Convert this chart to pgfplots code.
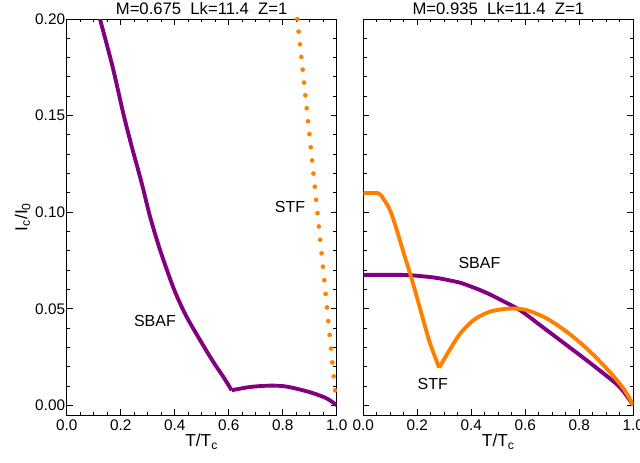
\documentclass[border=0pt]{standalone}
\usepackage{fontspec}
\setmainfont{Liberation Sans}
\usepackage{pgfplots}
\pgfplotsset{compat=1.18}
\definecolor{cpurple}{RGB}{128,0,128}
\definecolor{corange}{RGB}{255,128,0}
\pgfplotsset{
  myax/.style={
    scale only axis, width=202.5pt, height=297pt,
    xmin=0, xmax=1, ymin=-0.005, ymax=0.2,
    xtick={0,0.2,0.4,0.6,0.8,1.0}, minor x tick num=3,
    ytick={0,0.05,0.10,0.15,0.20}, minor y tick num=4,
    tick pos=both, tick align=inside,
    major tick length=4.5pt, minor tick length=2.5pt,
    axis line style={line width=0.75pt},
    every tick/.style={black, line width=0.75pt},
    /pgf/number format/assume math mode=true,
    xticklabel style={/pgf/number format/fixed, /pgf/number format/fixed zerofill, /pgf/number format/precision=1},
    yticklabel style={/pgf/number format/fixed, /pgf/number format/fixed zerofill, /pgf/number format/precision=2, inner xsep=1pt},
    tick label style={font=\fontsize{11.5}{13}\selectfont},
    scaled ticks=false,
    every axis title/.style={at={(axis description cs:0.5,1)}, anchor=base, yshift=3.5pt, font=\fontsize{12.5}{14}\selectfont},
    every axis x label/.style={at={(axis description cs:0.5,0)}, anchor=base, yshift=-23.8pt, font=\fontsize{13}{15}\selectfont},
    every axis y label/.style={at={(axis description cs:0,0.5)}, anchor=center, xshift=-33pt, rotate=90, font=\fontsize{13}{15}\selectfont},
    xlabel={T/T\textsubscript{c}},
  },
  purp/.style={no marks, color=cpurple, line width=2.9pt, line join=round, smooth, tension=0.5},
  oran/.style={no marks, color=corange, line width=2.9pt, line join=round, smooth, tension=0.5},
}
\begin{document}
\begin{tikzpicture}
\begin{axis}[myax, name=L, at={(0,0)}, anchor=south west,
  title={M=0.675\ \ Lk=11.4\ \ Z=1},
  ylabel={I\textsubscript{c}/I\textsubscript{0}},
]
\addplot[purp] coordinates {
(0.120,0.2018) (0.126,0.1986) (0.170,0.1753) (0.210,0.1510) (0.241,0.1340)
(0.278,0.1150) (0.309,0.0976) (0.346,0.0804) (0.389,0.0632) (0.413,0.0550)
(0.444,0.0459) (0.494,0.0338) (0.543,0.0225) (0.580,0.0148) (0.611,0.0078)};
\addplot[purp] coordinates {
(0.611,0.0078) (0.679,0.0095) (0.753,0.0102) (0.815,0.0097) (0.901,0.0068) (0.963,0.0036)
(1.000,0.0000)};
\addplot[only marks, mark=*, mark size=1.5pt, color=corange, mark options={draw=corange, fill=corange}] coordinates {
(0.854,0.2000) (0.859,0.1935) (0.864,0.1869) (0.869,0.1804) (0.874,0.1738)
(0.879,0.1671) (0.884,0.1605) (0.889,0.1538) (0.894,0.1471) (0.899,0.1404)
(0.904,0.1336) (0.909,0.1268) (0.914,0.1200) (0.919,0.1132) (0.924,0.1064)
(0.929,0.0995) (0.934,0.0926) (0.939,0.0857) (0.944,0.0787) (0.949,0.0718)
(0.954,0.0648) (0.959,0.0577) (0.964,0.0507) (0.969,0.0436) (0.974,0.0365)
(0.979,0.0294) (0.984,0.0222) (0.989,0.0150) (0.994,0.0078)};
\node[font=\fontsize{12}{14}\selectfont] at (axis cs:0.827,0.1027) {STF};
\node[font=\fontsize{12}{14}\selectfont] at (axis cs:0.327,0.0438) {SBAF};
\end{axis}
\begin{axis}[myax, name=R, at={(222.5pt,0)}, anchor=south west,
  title={M=0.935\ \ Lk=11.4\ \ Z=1},
  yticklabels={},
]
\addplot[purp] coordinates {
(0.000,0.0675) (0.150,0.0675) (0.235,0.0666) (0.284,0.0657) (0.309,0.0650)
(0.358,0.0635) (0.395,0.0617) (0.432,0.0597) (0.469,0.0574) (0.506,0.0548)
(0.580,0.0493) (0.654,0.0416) (0.728,0.0338) (0.802,0.0260) (0.876,0.0180)
(0.950,0.0094) (1.000,0.0000)};
\addplot[oran] coordinates {
(0.000,0.1098) (0.055,0.1098) (0.074,0.1070) (0.099,0.1010) (0.124,0.0907)
(0.148,0.0795) (0.173,0.0683) (0.198,0.0562) (0.222,0.0442) (0.247,0.0321)
(0.281,0.0195)};
\addplot[oran] coordinates {
(0.281,0.0195) (0.321,0.0290) (0.358,0.0370) (0.407,0.0440) (0.469,0.0485)
(0.543,0.0501) (0.605,0.0493) (0.679,0.0450) (0.753,0.0381) (0.827,0.0295)
(0.901,0.0191) (0.963,0.0088) (1.000,0.0000)};
\node[font=\fontsize{12}{14}\selectfont] at (axis cs:0.43,0.0735) {SBAF};
\node[font=\fontsize{12}{14}\selectfont] at (axis cs:0.257,0.011) {STF};
\end{axis}
\pgfresetboundingbox
\path[use as bounding box] (-50pt,-35.25pt) rectangle (430pt,311.25pt);
\end{tikzpicture}
\end{document}
